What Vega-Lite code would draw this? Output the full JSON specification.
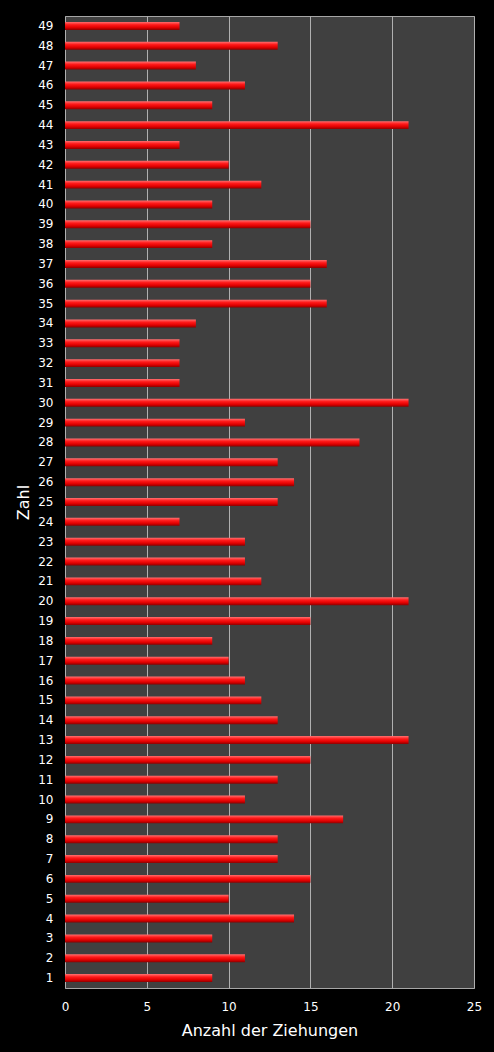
{
  "$schema": "https://vega.github.io/schema/vega-lite/v6.json",
  "description": "Anzahl der Ziehungen je Zahl",
  "autosize": "none",
  "padding": {"left": 65, "top": 16, "right": 20, "bottom": 64},
  "width": 409,
  "height": 972,
  "background": "#000000",
  "config": {
    "view": {"fill": "#404040", "stroke": "#a6a6a6", "strokeWidth": 1},
    "font": "DejaVu Sans"
  },
  "data": {
    "values": [
      {"Zahl": 1, "Anzahl": 9}, {"Zahl": 2, "Anzahl": 11}, {"Zahl": 3, "Anzahl": 9},
      {"Zahl": 4, "Anzahl": 14}, {"Zahl": 5, "Anzahl": 10}, {"Zahl": 6, "Anzahl": 15},
      {"Zahl": 7, "Anzahl": 13}, {"Zahl": 8, "Anzahl": 13}, {"Zahl": 9, "Anzahl": 17},
      {"Zahl": 10, "Anzahl": 11}, {"Zahl": 11, "Anzahl": 13}, {"Zahl": 12, "Anzahl": 15},
      {"Zahl": 13, "Anzahl": 21}, {"Zahl": 14, "Anzahl": 13}, {"Zahl": 15, "Anzahl": 12},
      {"Zahl": 16, "Anzahl": 11}, {"Zahl": 17, "Anzahl": 10}, {"Zahl": 18, "Anzahl": 9},
      {"Zahl": 19, "Anzahl": 15}, {"Zahl": 20, "Anzahl": 21}, {"Zahl": 21, "Anzahl": 12},
      {"Zahl": 22, "Anzahl": 11}, {"Zahl": 23, "Anzahl": 11}, {"Zahl": 24, "Anzahl": 7},
      {"Zahl": 25, "Anzahl": 13}, {"Zahl": 26, "Anzahl": 14}, {"Zahl": 27, "Anzahl": 13},
      {"Zahl": 28, "Anzahl": 18}, {"Zahl": 29, "Anzahl": 11}, {"Zahl": 30, "Anzahl": 21},
      {"Zahl": 31, "Anzahl": 7}, {"Zahl": 32, "Anzahl": 7}, {"Zahl": 33, "Anzahl": 7},
      {"Zahl": 34, "Anzahl": 8}, {"Zahl": 35, "Anzahl": 16}, {"Zahl": 36, "Anzahl": 15},
      {"Zahl": 37, "Anzahl": 16}, {"Zahl": 38, "Anzahl": 9}, {"Zahl": 39, "Anzahl": 15},
      {"Zahl": 40, "Anzahl": 9}, {"Zahl": 41, "Anzahl": 12}, {"Zahl": 42, "Anzahl": 10},
      {"Zahl": 43, "Anzahl": 7}, {"Zahl": 44, "Anzahl": 21}, {"Zahl": 45, "Anzahl": 9},
      {"Zahl": 46, "Anzahl": 11}, {"Zahl": 47, "Anzahl": 8}, {"Zahl": 48, "Anzahl": 13},
      {"Zahl": 49, "Anzahl": 7}
    ]
  },
  "mark": {
    "type": "bar",
    "color": {
      "gradient": "linear",
      "x1": 0, "y1": 0, "x2": 0, "y2": 1,
      "stops": [
        {"offset": 0, "color": "#ff7070"},
        {"offset": 0.35, "color": "#ff1a1a"},
        {"offset": 0.7, "color": "#e00000"},
        {"offset": 1, "color": "#8a0000"}
      ]
    }
  },
  "encoding": {
    "y": {
      "field": "Zahl",
      "type": "ordinal",
      "sort": "descending",
      "scale": {"paddingInner": 0.6, "paddingOuter": 0.3},
      "axis": {
        "title": "Zahl",
        "titleColor": "#ffffff",
        "titleFontSize": 16,
        "titleFontWeight": "normal",
        "titlePadding": 6,
        "labelColor": "#ffffff",
        "labelFontSize": 12,
        "labelPadding": 12,
        "ticks": false,
        "domain": false
      }
    },
    "x": {
      "field": "Anzahl",
      "type": "quantitative",
      "scale": {"domain": [0, 25], "nice": false},
      "axis": {
        "title": "Anzahl der Ziehungen",
        "titleColor": "#ffffff",
        "titleFontSize": 16,
        "titleFontWeight": "normal",
        "titlePadding": 10,
        "labelColor": "#ffffff",
        "labelFontSize": 12,
        "labelPadding": 13,
        "labelFlush": false,
        "values": [0, 5, 10, 15, 20, 25],
        "ticks": false,
        "domain": false,
        "grid": true,
        "gridColor": "#b0b0b0",
        "gridWidth": 1
      }
    }
  }
}
